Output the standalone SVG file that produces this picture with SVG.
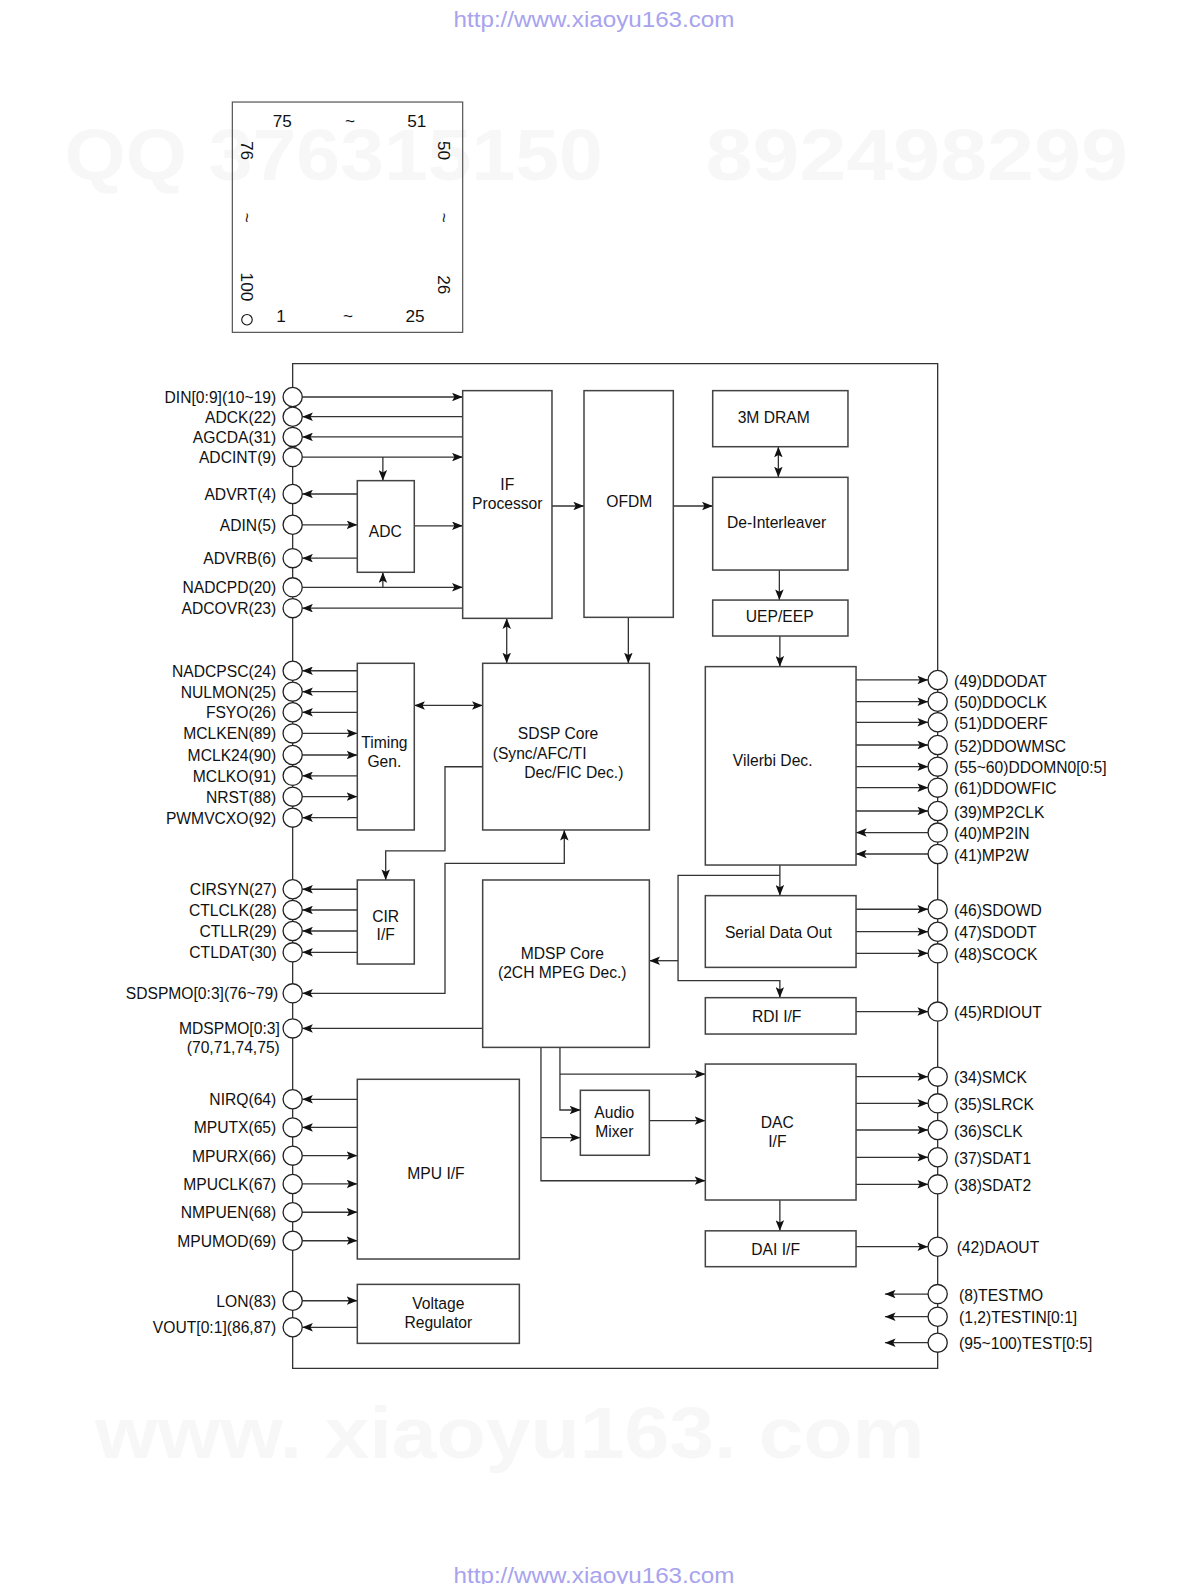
<svg xmlns="http://www.w3.org/2000/svg" width="1190" height="1584" viewBox="0 0 1190 1584">
<defs>
<style>
text{font-family:"Liberation Sans",Arial,sans-serif;font-size:15.5px;fill:#111}
.wm{font-weight:bold;font-size:71px;fill:#f7f7f7}
.url{font-size:21px;fill:#a7a3ee}
.pk{font-size:17px}
.m{text-anchor:middle}
.r{text-anchor:end}
.b{fill:none;stroke:#444;stroke-width:1.5}
.p{fill:#fff;stroke:#222;stroke-width:1.3}
.c{fill:none;stroke:#333;stroke-width:1.3}
.e{marker-end:url(#a)}
.s{marker-start:url(#a)}
</style>
<marker id="a" viewBox="0 0 10 8" refX="10" refY="4" markerWidth="10.5" markerHeight="8.4" orient="auto-start-reverse" markerUnits="userSpaceOnUse"><path d="M0,0 L10,4 L0,8 L2.2,4 z" fill="#111"/></marker>
</defs>
<rect width="1190" height="1584" fill="#fff"/>
<g transform="scale(1.0102)">
<g id="watermarks">
<text class="wm" x="63.8" y="178" textLength="533" lengthAdjust="spacingAndGlyphs">QQ 376315150</text>
<text class="wm" x="698.5" y="178" textLength="418" lengthAdjust="spacingAndGlyphs">892498299</text>
<text class="wm" x="94" y="1443.6" textLength="821" lengthAdjust="spacingAndGlyphs">www. xiaoyu163. com</text>
<text class="url" x="449" y="27" textLength="278" lengthAdjust="spacingAndGlyphs">http://www.xiaoyu163.com</text>
<text class="url" x="449" y="1567" textLength="278" lengthAdjust="spacingAndGlyphs">http://www.xiaoyu163.com</text>
</g>
<g id="package">
<rect x="230" y="101" width="228" height="228" fill="none" stroke="#555" stroke-width="1.2"/>
<text class="pk m" x="279.5" y="126">75</text>
<text class="pk m" x="346.5" y="126">~</text>
<text class="pk m" x="412.5" y="126">51</text>
<text class="pk m" x="278.2" y="318.4">1</text>
<text class="pk m" x="344.5" y="318.4">~</text>
<text class="pk m" x="410.8" y="318.4">25</text>
<circle cx="244.5" cy="316.5" r="5.2" fill="none" stroke="#111" stroke-width="1.1"/>
<text class="pk m" transform="translate(245,149) rotate(90)" x="0" y="6">76</text>
<text class="pk m" transform="translate(245,215.5) rotate(90)" x="0" y="6">~</text>
<text class="pk m" transform="translate(245,284) rotate(90)" x="0" y="6">100</text>
<text class="pk m" transform="translate(440,149) rotate(90)" x="0" y="6">50</text>
<text class="pk m" transform="translate(440,215.5) rotate(90)" x="0" y="6">~</text>
<text class="pk m" transform="translate(440,282) rotate(90)" x="0" y="6">26</text>
</g>
<g id="connectors">
<path class="c" d="M289.7,360 H928.2 V1354.5 H289.7 Z"/>
<path class="c e" d="M299.2,393 H458"/>
<path class="c e" d="M458,412.5 H299.2"/>
<path class="c e" d="M458,432.5 H299.2"/>
<path class="c e" d="M299.2,452.5 H458"/>
<path class="c e" d="M379,452.5 V475.8"/>
<path class="c e" d="M353.7,489 H299.2"/>
<path class="c e" d="M299.2,519.5 H353.7"/>
<path class="c e" d="M353.7,552.5 H299.2"/>
<path class="c e" d="M410.1,520.5 H458"/>
<path class="c e" d="M299.2,581.4 H458"/>
<path class="c e" d="M379,581.4 V566.5"/>
<path class="c e" d="M458,602 H299.2"/>
<path class="c e" d="M546.4,500.9 H578.1"/>
<path class="c e" d="M666.5,500.9 H705.5"/>
<path class="c s e" d="M770.5,442.2 V472.5"/>
<path class="c e" d="M771.5,564.3 V594"/>
<path class="c e" d="M772,629.6 V659.9"/>
<path class="c s e" d="M501.6,612.1 V656.6"/>
<path class="c e" d="M622,611.1 V656.6"/>
<path class="c e" d="M353.7,664 H299.2"/>
<path class="c e" d="M353.7,684.7 H299.2"/>
<path class="c e" d="M353.7,705.1 H299.2"/>
<path class="c e" d="M299.2,726 H353.7"/>
<path class="c e" d="M299.2,747.4 H353.7"/>
<path class="c e" d="M353.7,768 H299.2"/>
<path class="c e" d="M299.2,788.6 H353.7"/>
<path class="c e" d="M353.7,809.4 H299.2"/>
<path class="c s e" d="M410.1,698.3 H477.8"/>
<path class="c e" d="M477.8,759 H440.5 V842.3 H381.8 V871.1"/>
<path class="c s e" d="M558.6,821.6 V854.6 H440.5 V983.3 H299.2"/>
<path class="c e" d="M353.7,880.3 H299.2"/>
<path class="c e" d="M353.7,900.8 H299.2"/>
<path class="c e" d="M353.7,921.6 H299.2"/>
<path class="c e" d="M353.7,942.7 H299.2"/>
<path class="c e" d="M477.8,1018 H299.2"/>
<path class="c e" d="M353.7,1088.2 H299.2"/>
<path class="c e" d="M353.7,1116 H299.2"/>
<path class="c e" d="M299.2,1144 H353.7"/>
<path class="c e" d="M299.2,1172 H353.7"/>
<path class="c e" d="M299.2,1200 H353.7"/>
<path class="c e" d="M299.2,1228.2 H353.7"/>
<path class="c e" d="M299.2,1287.6 H353.7"/>
<path class="c e" d="M353.7,1313.9 H299.2"/>
<path class="c e" d="M772,856.3 V886.6"/>
<path class="c e" d="M772,866.5 H671.2 V970.8 H772 V987.6"/>
<path class="c e" d="M671.2,951 H642.8"/>
<path class="c e" d="M554.3,1036.8 V1098.8 H574.5"/>
<path class="c e" d="M554.3,1063.2 H698.2"/>
<path class="c e" d="M535.5,1036.8 V1168.8 H698.2"/>
<path class="c e" d="M535.5,1126.2 H574.5"/>
<path class="c e" d="M642.8,1109.4 H698.2"/>
<path class="c e" d="M772,1187.9 V1218.4"/>
<path class="c e" d="M847.4,673.1 H918.7"/>
<path class="c e" d="M847.4,694.6 H918.7"/>
<path class="c e" d="M847.4,715 H918.7"/>
<path class="c e" d="M847.4,737.5 H918.7"/>
<path class="c e" d="M847.4,758.9 H918.7"/>
<path class="c e" d="M847.4,779.7 H918.7"/>
<path class="c e" d="M847.4,802.8 H918.7"/>
<path class="c e" d="M918.7,824.2 H847.4"/>
<path class="c e" d="M918.7,845.4 H847.4"/>
<path class="c e" d="M847.4,900.1 H918.7"/>
<path class="c e" d="M847.4,922.3 H918.7"/>
<path class="c e" d="M847.4,943.7 H918.7"/>
<path class="c e" d="M847.4,1001.4 H918.7"/>
<path class="c e" d="M847.4,1065.8 H918.7"/>
<path class="c e" d="M847.4,1092.2 H918.7"/>
<path class="c e" d="M847.4,1118.6 H918.7"/>
<path class="c e" d="M847.4,1145.6 H918.7"/>
<path class="c e" d="M847.4,1172.4 H918.7"/>
<path class="c e" d="M847.4,1234.1 H918.7"/>
<path class="c e" d="M918.7,1281 H876"/>
<path class="c e" d="M918.7,1303.4 H876"/>
<path class="c e" d="M918.7,1329.1 H876"/>
</g>
<g id="if-processor"><rect class="b" x="458" y="386.7" width="88.4" height="225.4"/><text class="m" x="502.2" y="485">IF</text><text class="m" x="502.2" y="504.2">Processor</text></g>
<g id="ofdm"><rect class="b" x="578.1" y="386.7" width="88.4" height="224.4"/><text class="m" x="623" y="501.6">OFDM</text></g>
<g id="dram"><rect class="b" x="705.5" y="386.7" width="133.9" height="55.5"/><text class="m" x="765.9" y="418.4">3M DRAM</text></g>
<g id="deinterleaver"><rect class="b" x="705.5" y="472.5" width="133.9" height="91.8"/><text class="m" x="768.8" y="522.3">De-Interleaver</text></g>
<g id="uep-eep"><rect class="b" x="705.5" y="594" width="133.9" height="35.6"/><text class="m" x="771.8" y="615.4">UEP/EEP</text></g>
<g id="adc"><rect class="b" x="353.7" y="475.8" width="56.4" height="90.7"/><text class="m" x="381.4" y="531.3">ADC</text></g>
<g id="timing-gen"><rect class="b" x="353.7" y="656.6" width="56.4" height="165"/><text class="m" x="380.5" y="740.8">Timing</text><text class="m" x="380.5" y="758.9">Gen.</text></g>
<g id="sdsp-core"><rect class="b" x="477.8" y="656.6" width="165" height="165"/><text class="m" x="552.4" y="731.9">SDSP Core</text><text x="487.7" y="751.3">(Sync/AFC/TI</text><text x="519" y="770.5">Dec/FIC Dec.)</text></g>
<g id="vilerbi-dec"><rect class="b" x="698.2" y="659.9" width="149.2" height="196.4"/><text class="m" x="764.9" y="758.3">Vilerbi Dec.</text></g>
<g id="cir-if"><rect class="b" x="353.7" y="871.1" width="56.4" height="83.2"/><text class="m" x="381.8" y="912.4">CIR</text><text class="m" x="381.8" y="930.5">I/F</text></g>
<g id="mdsp-core"><rect class="b" x="477.8" y="871.1" width="165" height="165.7"/><text class="m" x="556.6" y="949.6">MDSP Core</text><text class="m" x="556.6" y="968.4">(2CH MPEG Dec.)</text></g>
<g id="serial-data-out"><rect class="b" x="698.2" y="886.6" width="149.2" height="71"/><text class="m" x="770.5" y="928.8">Serial Data Out</text></g>
<g id="rdi-if"><rect class="b" x="698.2" y="987.6" width="149.2" height="36"/><text class="m" x="768.8" y="1011.3">RDI I/F</text></g>
<g id="mpu-if"><rect class="b" x="353.7" y="1068.4" width="160.4" height="177.9"/><text class="m" x="431.6" y="1167.4">MPU I/F</text></g>
<g id="audio-mixer"><rect class="b" x="574.5" y="1079.3" width="68.3" height="64.3"/><text class="m" x="608.1" y="1107">Audio</text><text class="m" x="608.1" y="1125.8">Mixer</text></g>
<g id="dac-if"><rect class="b" x="698.2" y="1053.3" width="149.2" height="134.6"/><text class="m" x="769.5" y="1116.3">DAC</text><text class="m" x="769.5" y="1135.7">I/F</text></g>
<g id="dai-if"><rect class="b" x="698.2" y="1218.4" width="149.2" height="35.5"/><text class="m" x="767.8" y="1242.3">DAI I/F</text></g>
<g id="voltage-regulator"><rect class="b" x="353.7" y="1271.4" width="160.4" height="58.4"/><text class="m" x="433.9" y="1295.8">Voltage</text><text class="m" x="433.9" y="1314.3">Regulator</text></g>
<g id="left-pins">
<g id="pin-din"><circle class="p" cx="289.7" cy="393" r="9.5"/><text class="r" x="273.5" y="399">DIN[0:9](10~19)</text></g>
<g id="pin-adck"><circle class="p" cx="289.7" cy="412.5" r="9.5"/><text class="r" x="273.5" y="418.5">ADCK(22)</text></g>
<g id="pin-agcda"><circle class="p" cx="289.7" cy="432.5" r="9.5"/><text class="r" x="273.5" y="438.5">AGCDA(31)</text></g>
<g id="pin-adcint"><circle class="p" cx="289.7" cy="452.5" r="9.5"/><text class="r" x="273.5" y="458.5">ADCINT(9)</text></g>
<g id="pin-advrt"><circle class="p" cx="289.7" cy="489" r="9.5"/><text class="r" x="273.5" y="495">ADVRT(4)</text></g>
<g id="pin-adin"><circle class="p" cx="289.7" cy="519.5" r="9.5"/><text class="r" x="273.5" y="525.5">ADIN(5)</text></g>
<g id="pin-advrb"><circle class="p" cx="289.7" cy="552.5" r="9.5"/><text class="r" x="273.5" y="558.5">ADVRB(6)</text></g>
<g id="pin-nadcpd"><circle class="p" cx="289.7" cy="581.4" r="9.5"/><text class="r" x="273.5" y="587.4">NADCPD(20)</text></g>
<g id="pin-adcovr"><circle class="p" cx="289.7" cy="602" r="9.5"/><text class="r" x="273.5" y="608">ADCOVR(23)</text></g>
<g id="pin-nadcpsc"><circle class="p" cx="289.7" cy="664" r="9.5"/><text class="r" x="273.5" y="670">NADCPSC(24)</text></g>
<g id="pin-nulmon"><circle class="p" cx="289.7" cy="684.7" r="9.5"/><text class="r" x="273.5" y="690.7">NULMON(25)</text></g>
<g id="pin-fsyo"><circle class="p" cx="289.7" cy="705.1" r="9.5"/><text class="r" x="273.5" y="711.1">FSYO(26)</text></g>
<g id="pin-mclken"><circle class="p" cx="289.7" cy="726" r="9.5"/><text class="r" x="273.5" y="732">MCLKEN(89)</text></g>
<g id="pin-mclk24"><circle class="p" cx="289.7" cy="747.4" r="9.5"/><text class="r" x="273.5" y="753.4">MCLK24(90)</text></g>
<g id="pin-mclko"><circle class="p" cx="289.7" cy="768" r="9.5"/><text class="r" x="273.5" y="774">MCLKO(91)</text></g>
<g id="pin-nrst"><circle class="p" cx="289.7" cy="788.6" r="9.5"/><text class="r" x="273.5" y="794.6">NRST(88)</text></g>
<g id="pin-pwmvcxo"><circle class="p" cx="289.7" cy="809.4" r="9.5"/><text class="r" x="273.5" y="815.4">PWMVCXO(92)</text></g>
<g id="pin-cirsyn"><circle class="p" cx="289.7" cy="880.3" r="9.5"/><text class="r" x="274" y="886.3">CIRSYN(27)</text></g>
<g id="pin-ctlclk"><circle class="p" cx="289.7" cy="900.8" r="9.5"/><text class="r" x="274" y="906.8">CTLCLK(28)</text></g>
<g id="pin-ctllr"><circle class="p" cx="289.7" cy="921.6" r="9.5"/><text class="r" x="274" y="927.6">CTLLR(29)</text></g>
<g id="pin-ctldat"><circle class="p" cx="289.7" cy="942.7" r="9.5"/><text class="r" x="274" y="948.7">CTLDAT(30)</text></g>
<g id="pin-sdspmo"><circle class="p" cx="289.7" cy="983.3" r="9.5"/><text class="r" x="275.5" y="989.3">SDSPMO[0:3](76~79)</text></g>
<g id="pin-mdspmo"><circle class="p" cx="289.7" cy="1018" r="9.5"/><text class="r" x="277" y="1024">MDSPMO[0:3]</text><text class="r" x="277" y="1042.7">(70,71,74,75)</text></g>
<g id="pin-nirq"><circle class="p" cx="289.7" cy="1088.2" r="9.5"/><text class="r" x="273.5" y="1094.2">NIRQ(64)</text></g>
<g id="pin-mputx"><circle class="p" cx="289.7" cy="1116" r="9.5"/><text class="r" x="273.5" y="1122">MPUTX(65)</text></g>
<g id="pin-mpurx"><circle class="p" cx="289.7" cy="1144" r="9.5"/><text class="r" x="273.5" y="1150">MPURX(66)</text></g>
<g id="pin-mpuclk"><circle class="p" cx="289.7" cy="1172" r="9.5"/><text class="r" x="273.5" y="1178">MPUCLK(67)</text></g>
<g id="pin-nmpuen"><circle class="p" cx="289.7" cy="1200" r="9.5"/><text class="r" x="273.5" y="1206">NMPUEN(68)</text></g>
<g id="pin-mpumod"><circle class="p" cx="289.7" cy="1228.2" r="9.5"/><text class="r" x="273.5" y="1234.2">MPUMOD(69)</text></g>
<g id="pin-lon"><circle class="p" cx="289.7" cy="1287.6" r="9.5"/><text class="r" x="273.5" y="1293.6">LON(83)</text></g>
<g id="pin-vout"><circle class="p" cx="289.7" cy="1313.9" r="9.5"/><text class="r" x="273.5" y="1319.9">VOUT[0:1](86,87)</text></g>
</g>
<g id="right-pins">
<g id="pin-ddodat"><circle class="p" cx="928.2" cy="673.1" r="9.5"/><text x="944.4" y="679.6">(49)DDODAT</text></g>
<g id="pin-ddoclk"><circle class="p" cx="928.2" cy="694.6" r="9.5"/><text x="944.4" y="701.1">(50)DDOCLK</text></g>
<g id="pin-ddoerf"><circle class="p" cx="928.2" cy="715" r="9.5"/><text x="944.4" y="721.5">(51)DDOERF</text></g>
<g id="pin-ddowmsc"><circle class="p" cx="928.2" cy="737.5" r="9.5"/><text x="944.4" y="744">(52)DDOWMSC</text></g>
<g id="pin-ddomn0"><circle class="p" cx="928.2" cy="758.9" r="9.5"/><text x="944.4" y="765.4">(55~60)DDOMN0[0:5]</text></g>
<g id="pin-ddowfic"><circle class="p" cx="928.2" cy="779.7" r="9.5"/><text x="944.4" y="786.2">(61)DDOWFIC</text></g>
<g id="pin-mp2clk"><circle class="p" cx="928.2" cy="802.8" r="9.5"/><text x="944.4" y="809.3">(39)MP2CLK</text></g>
<g id="pin-mp2in"><circle class="p" cx="928.2" cy="824.2" r="9.5"/><text x="944.4" y="830.7">(40)MP2IN</text></g>
<g id="pin-mp2w"><circle class="p" cx="928.2" cy="845.4" r="9.5"/><text x="944.4" y="851.9">(41)MP2W</text></g>
<g id="pin-sdowd"><circle class="p" cx="928.2" cy="900.1" r="9.5"/><text x="944.4" y="906.6">(46)SDOWD</text></g>
<g id="pin-sdodt"><circle class="p" cx="928.2" cy="922.3" r="9.5"/><text x="944.4" y="928.8">(47)SDODT</text></g>
<g id="pin-scock"><circle class="p" cx="928.2" cy="943.7" r="9.5"/><text x="944.4" y="950.2">(48)SCOCK</text></g>
<g id="pin-rdiout"><circle class="p" cx="928.2" cy="1001.4" r="9.5"/><text x="944.4" y="1007.9">(45)RDIOUT</text></g>
<g id="pin-smck"><circle class="p" cx="928.2" cy="1065.8" r="9.5"/><text x="944.4" y="1072.3">(34)SMCK</text></g>
<g id="pin-slrck"><circle class="p" cx="928.2" cy="1092.2" r="9.5"/><text x="944.4" y="1098.7">(35)SLRCK</text></g>
<g id="pin-sclk"><circle class="p" cx="928.2" cy="1118.6" r="9.5"/><text x="944.4" y="1125.1">(36)SCLK</text></g>
<g id="pin-sdat1"><circle class="p" cx="928.2" cy="1145.6" r="9.5"/><text x="944.4" y="1152.1">(37)SDAT1</text></g>
<g id="pin-sdat2"><circle class="p" cx="928.2" cy="1172.4" r="9.5"/><text x="944.4" y="1178.9">(38)SDAT2</text></g>
<g id="pin-daout"><circle class="p" cx="928.2" cy="1234.1" r="9.5"/><text x="947" y="1240.6">(42)DAOUT</text></g>
<g id="pin-testmo"><circle class="p" cx="928.2" cy="1281" r="9.5"/><text x="949.3" y="1287.5">(8)TESTMO</text></g>
<g id="pin-testin"><circle class="p" cx="928.2" cy="1303.4" r="9.5"/><text x="949.3" y="1309.9">(1,2)TESTIN[0:1]</text></g>
<g id="pin-test"><circle class="p" cx="928.2" cy="1329.1" r="9.5"/><text x="949.3" y="1335.6">(95~100)TEST[0:5]</text></g>
</g>
</g>
</svg>
